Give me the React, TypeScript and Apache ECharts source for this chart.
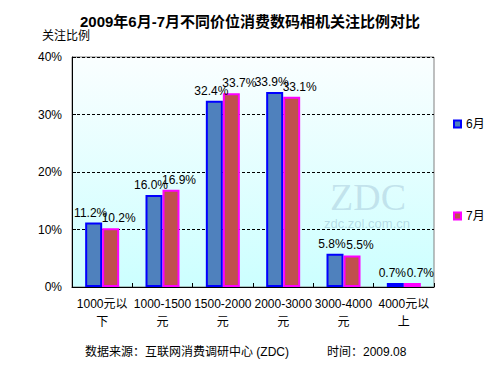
import React, { useEffect, useRef } from "react";
import * as echarts from "echarts";

const categories = ["1000元以\n下", "1000-1500\n元", "1500-2000\n元", "2000-3000\n元", "3000-4000\n元", "4000元以\n上"];
const june = [11.2, 16.0, 32.4, 33.9, 5.8, 0.7];
const july = [10.2, 16.9, 33.7, 33.1, 5.5, 0.7];
const seriesNames = ["6月", "7月"];
const yTicks = [0, 10, 20, 30, 40];

const FONT = "Arial, 'Liberation Sans', 'Noto Sans CJK SC', sans-serif";

export default function App() {
  const ref = useRef<HTMLDivElement>(null);
  useEffect(() => {
    if (!ref.current) return;
    const chart = echarts.init(ref.current, null, { renderer: "svg" });
    const mkLabel = (dx: number) => ({
      show: true,
      position: "top",
      distance: 4,
      offset: [dx, 0],
      color: "#000",
      fontSize: 12,
      fontFamily: FONT,
      formatter: (p: any) => p.value.toFixed(1) + "%",
    });
    chart.setOption({
      animation: false,
      backgroundColor: "#fff",
      textStyle: { fontFamily: FONT },
      title: {
        text: "2009年6月-7月不同价位消费数码相机关注比例对比",
        left: "center",
        top: 9,
        textStyle: { fontSize: 15, fontWeight: "bold", color: "#000", fontFamily: FONT },
      },
      grid: { left: 72, right: 66, top: 57, bottom: 88, show: true, borderColor: "#808080", borderWidth: 1,
        backgroundColor: new echarts.graphic.LinearGradient(0, 0, 0, 1, [
          { offset: 0, color: "#fafeff" },
          { offset: 1, color: "#ccffff" },
        ]),
      },
      legend: {
        orient: "vertical",
        left: 448,
        top: 113,
        itemGap: 80,
        itemWidth: 7,
        itemHeight: 7,
        icon: "rect",
        textStyle: { fontSize: 12, color: "#000", fontFamily: FONT },
        data: seriesNames,
      },
      xAxis: {
        type: "category",
        data: categories,
        axisLine: { lineStyle: { color: "#000", width: 1 } },
        axisTick: { show: true, inside: true, length: 4, lineStyle: { color: "#000" } },
        axisLabel: { interval: 0, color: "#000", fontSize: 12, lineHeight: 18, margin: 8, fontFamily: FONT },
      },
      yAxis: {
        type: "value",
        min: 0,
        max: 40,
        interval: 10,
        axisLine: { show: true, lineStyle: { color: "#000", width: 1 } },
        axisTick: { show: true, inside: true, length: 4, lineStyle: { color: "#000" } },
        axisLabel: { color: "#000", fontSize: 12, margin: 10, formatter: (v: number) => (yTicks.includes(v) ? v + "%" : ""), fontFamily: FONT },
        splitLine: { show: true, lineStyle: { color: "#000", type: [3, 2], width: 1 } },
      },
      series: [
        {
          name: seriesNames[0],
          type: "bar",
          data: june,
          barWidth: 17,
          barGap: "0%",
          itemStyle: { color: "#4f81bd", borderColor: "#0000ff", borderWidth: 2 },
          label: mkLabel(-3),
        },
        {
          name: seriesNames[1],
          type: "bar",
          data: july,
          barWidth: 17,
          barGap: "0%",
          itemStyle: { color: "#c0504d", borderColor: "#ff00ff", borderWidth: 2 },
          label: mkLabel(8),
        },
      ],
      graphic: [
        {
          type: "text",
          left: 42,
          top: 30,
          style: { text: "关注比例", fontSize: 12, fontFamily: FONT, fill: "#000" },
        },
        {
          type: "text",
          left: 330,
          top: 178,
          z: 0,
          style: { text: "ZDC", fontSize: 38, fontFamily: "'Liberation Serif', 'DejaVu Serif', serif", fill: "rgba(140,175,200,0.35)" },
        },
        {
          type: "text",
          left: 324,
          top: 217,
          z: 0,
          style: { text: "zdc.zol.com.cn", fontSize: 13, fontFamily: FONT, fill: "rgba(140,175,200,0.45)" },
        },
        {
          type: "text",
          left: 85,
          top: 346,
          style: { text: "数据来源：互联网消费调研中心 (ZDC)", fontSize: 12, fontFamily: FONT, fill: "#000" },
        },
        {
          type: "text",
          left: 327,
          top: 346,
          style: { text: "时间：2009.08", fontSize: 12, fontFamily: FONT, fill: "#000" },
        },
      ],
    });
    return () => chart.dispose();
  }, []);
  return <div ref={ref} style={{ width: 500, height: 375, position: "absolute", left: 0, top: 0 }} />;
}
